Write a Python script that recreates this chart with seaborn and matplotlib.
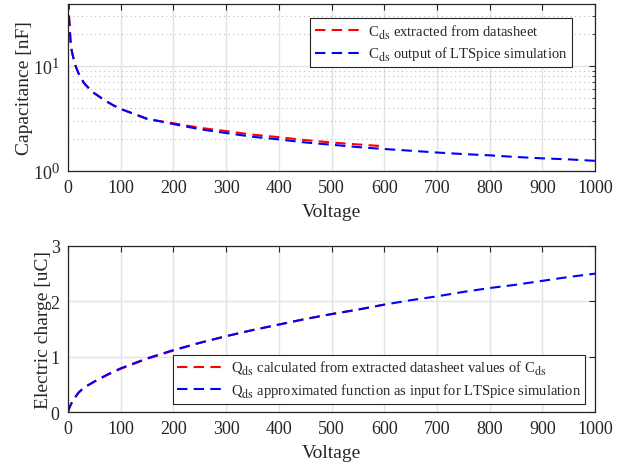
import numpy as np
import pandas as pd
import matplotlib
matplotlib.use("Agg")
import matplotlib.pyplot as plt
import matplotlib._mathtext as mathtext_internal
from matplotlib.ticker import LogLocator, NullFormatter, MultipleLocator
import seaborn as sns

# Drain-source capacitance (nF) versus voltage
v_sheet = [0.5, 1, 2, 5, 7, 10, 15, 20, 30, 40, 50, 70, 85, 100, 150, 200, 250,
           300, 350, 400, 450, 500, 550, 600]
c_sheet = [55, 40, 29, 16.5, 14, 12, 9.8, 8.5, 6.9, 6.1, 5.5, 4.7, 4.25, 3.9,
           3.12, 2.85, 2.58, 2.4, 2.22, 2.1, 1.97, 1.87, 1.79, 1.72]

v_sim = [0.5, 1, 2, 5, 7, 10, 15, 20, 30, 40, 50, 70, 85, 100, 150, 200, 250,
         300, 350, 400, 450, 500, 550, 600, 650, 700, 750, 800, 850, 900, 950,
         1000]
c_sim = [55, 40, 29, 16.5, 14, 12, 9.8, 8.5, 6.9, 6.1, 5.5, 4.7, 4.25, 3.9,
         3.15, 2.8, 2.5, 2.3, 2.12, 2.0, 1.87, 1.78, 1.69, 1.62, 1.56, 1.5,
         1.45, 1.41, 1.36, 1.32, 1.29, 1.25]

# Drain-source charge (uC) versus voltage
vq_sheet = [0, 2, 5, 10, 20, 30, 50, 75, 100, 150, 200, 250, 300, 350, 400,
            450, 500, 550, 600]
q_sheet = [0, 0.06, 0.13, 0.22, 0.35, 0.44, 0.55, 0.67, 0.78, 0.96, 1.11,
           1.25, 1.37, 1.48, 1.58, 1.68, 1.77, 1.85, 1.94]

vq_sim = [0, 2, 5, 10, 20, 30, 50, 75, 100, 150, 200, 250, 300, 350, 400,
          450, 500, 550, 600, 650, 700, 750, 800, 850, 900, 950, 1000]
q_sim = [0, 0.06, 0.13, 0.22, 0.35, 0.44, 0.55, 0.68, 0.79, 0.97, 1.12,
         1.25, 1.37, 1.48, 1.58, 1.68, 1.77, 1.85, 1.94, 2.02, 2.09, 2.17, 2.24,
         2.30, 2.37, 2.44, 2.50]

x_ticks = list(range(0, 1001, 100))

sns.set_theme(style="white")
plt.rcParams["font.family"] = ["Liberation Serif", "DejaVu Serif"]
plt.rcParams["mathtext.fontset"] = "stix"
# larger, lower subscripts for the "ds" index
mathtext_internal.SHRINK_FACTOR = 0.82
mathtext_internal.STIXFontConstants.sub1 = 0.45

fig = plt.figure(figsize=(6.27, 4.64), dpi=100)
ax1 = fig.add_axes([0.1085, 0.6293, 0.8405, 0.360])
ax2 = fig.add_axes([0.1085, 0.1099, 0.8405, 0.3578])

dash = (0, (5, 3))
lw = 1.5

df_c1 = pd.DataFrame({"Voltage": v_sheet, "C": c_sheet})
df_c2 = pd.DataFrame({"Voltage": v_sim, "C": c_sim})
df_q1 = pd.DataFrame({"Voltage": vq_sheet, "Q": q_sheet})
df_q2 = pd.DataFrame({"Voltage": vq_sim, "Q": q_sim})

sns.lineplot(data=df_c1, x="Voltage", y="C", ax=ax1, color="#ff0000", lw=lw,
             linestyle=dash, label=r"C$_{\mathrm{ds}}$ extracted from datasheet")
sns.lineplot(data=df_c2, x="Voltage", y="C", ax=ax1, color="#0000ff", lw=lw,
             linestyle=dash, label=r"C$_{\mathrm{ds}}$ output of LTSpice simulation")

sns.lineplot(data=df_q1, x="Voltage", y="Q", ax=ax2, color="#ff0000", lw=lw,
             linestyle=dash,
             label=r"Q$_{\mathrm{ds}}$ calculated from extracted datasheet values of C$_{\mathrm{ds}}$")
sns.lineplot(data=df_q2, x="Voltage", y="Q", ax=ax2, color="#0000ff", lw=lw,
             linestyle=dash,
             label=r"Q$_{\mathrm{ds}}$ approximated function as input for LTSpice simulation")

tick_fs = 13
label_fs = 14
for ax in (ax1, ax2):
    ax.set_xlim(0, 1000)
    ax.set_xticks(x_ticks)
    ax.set_xlabel("Voltage", fontsize=label_fs, labelpad=5)
    ax.tick_params(which="both", direction="in", top=True, right=True,
                   labelsize=tick_fs, pad=6, color="#262626")
    ax.tick_params(which="major", length=4, width=0.8)
    ax.tick_params(which="minor", length=2, width=0.6)
    for s in ax.spines.values():
        s.set_color("#262626")
        s.set_linewidth(0.9)
    ax.grid(True, which="major", color="#e3e3e3", lw=1.0, ls="-")
    ax.set_axisbelow(True)

ax1.set_yscale("log")
ax1.set_ylim(1, 39)
ax1.yaxis.set_major_locator(LogLocator(base=10, numticks=5))
ax1.yaxis.set_minor_locator(LogLocator(base=10, subs=np.arange(2, 10), numticks=20))
ax1.yaxis.set_minor_formatter(NullFormatter())
ax1.grid(True, which="minor", axis="y", color="#bdbdbd", lw=0.8, ls=(0, (1, 3)))
ax1.set_ylabel("Capacitance [nF]", fontsize=label_fs, labelpad=0)

ax2.set_ylim(0, 3)
ax2.yaxis.set_major_locator(MultipleLocator(1))
ax2.set_ylabel("Electric charge [uC]", fontsize=label_fs, labelpad=-1)

leg_kw = dict(fontsize=10.5, frameon=True, fancybox=False, framealpha=1,
              edgecolor="#262626", handlelength=3.4, handletextpad=0.25,
              borderpad=0.3, labelspacing=0.3, borderaxespad=0)
l1 = ax1.legend(loc="upper right", bbox_to_anchor=(0.956, 0.916), **leg_kw)
l2 = ax2.legend(loc="lower right", bbox_to_anchor=(0.981, 0.048), **leg_kw)
for lg in (l1, l2):
    lg.get_frame().set_linewidth(0.8)

fig.savefig("out.png", dpi=100)
